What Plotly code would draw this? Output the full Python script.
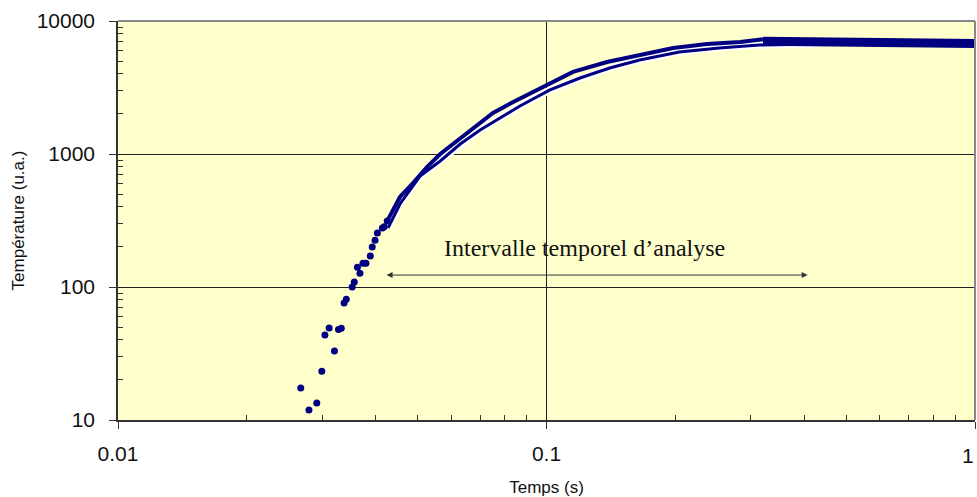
import numpy as np
import plotly.graph_objects as go

# Measured data: early isolated points
early_t = [0.0267, 0.0279, 0.0291, 0.0299, 0.0304, 0.0311, 0.0320, 0.0327, 0.0332, 0.0337,
           0.0341, 0.0352, 0.0356, 0.0362, 0.0367, 0.0373, 0.0379, 0.0388, 0.0392, 0.0398,
           0.0403, 0.0414, 0.0418, 0.0425]
early_T = [17.4, 11.9, 13.4, 23.3, 43.5, 49.2, 33.0, 48, 49, 75.8,
           81, 100, 109, 141, 127, 151, 151, 171, 200, 225,
           255, 278, 284, 314]

# Measured data: dense part (continuous)
meas_t = [0.0425, 0.0455, 0.0488, 0.0526, 0.0565, 0.0629, 0.0689, 0.0750, 0.0836, 0.0930,
          0.1058, 0.1153, 0.1384, 0.1652, 0.1975, 0.237, 0.283, 0.320]
meas_T = [314, 475, 605, 798, 1000, 1318, 1652, 2033, 2460, 2924,
          3600, 4140, 4920, 5550, 6270, 6720, 6950, 7300]

# Measured data: noisy plateau
plat_t = [0.320, 0.45, 0.60, 0.75, 0.826, 0.830, 1.0]
plat_T = [7050, 7000, 7000, 6990, 6990, 6760, 6760]

# Model curve over the analysis interval
model_t = [0.0427, 0.0455, 0.0507, 0.0565, 0.0629, 0.0700, 0.0779, 0.0867, 0.1019, 0.1197,
           0.1404, 0.1650, 0.2042, 0.2530, 0.314, 0.434]
model_T = [278, 421, 683, 886, 1189, 1514, 1866, 2296, 3030, 3727,
           4434, 5090, 5845, 6270, 6600, 6720]

x_ticks = [0.01, 0.1, 1]
x_ticktext = ["0.01", "0.1", ""]
x_last_label = "1"
y_ticks = [10, 100, 1000, 10000]
y_ticktext = ["10", "100", "1000", "10000"]

interval = [0.0420, 0.407]
interval_T = 123
label_pos = (0.1229, 196)
label_text = "Intervalle temporel d\u2019analyse"

NAVY = "#000080"
SANS = "Liberation Sans, Arial"

fig = go.Figure()
fig.add_trace(go.Scatter(x=model_t, y=model_T, mode="lines",
                         line=dict(color="white", width=7), hoverinfo="skip"))
fig.add_trace(go.Scatter(x=model_t, y=model_T, mode="lines",
                         line=dict(color=NAVY, width=3)))
fig.add_trace(go.Scatter(x=early_t, y=early_T, mode="markers",
                         marker=dict(color=NAVY, size=7)))
fig.add_trace(go.Scatter(x=meas_t, y=meas_T, mode="lines",
                         line=dict(color=NAVY, width=4)))
fig.add_trace(go.Scatter(x=plat_t, y=plat_T, mode="lines",
                         line=dict(color=NAVY, width=9)))

minor_x = [m * d for d in (0.01, 0.1) for m in range(2, 10)]
minor_y = [m * d for d in (10, 100, 1000) for m in range(2, 10)]

fig.update_xaxes(type="log", range=[-2, 0], tickvals=x_ticks, ticktext=x_ticktext,
                 showgrid=True, gridcolor="#222222", gridwidth=1,
                 ticks="outside", ticklen=7, tickcolor="#333333",
                 showline=True, linecolor="#333333", linewidth=1.5,
                 tickfont=dict(family=SANS, size=21, color="#111"),
                 ticklabelstandoff=7,
                 minor=dict(tickvals=minor_x, ticks="inside", ticklen=5,
                            tickcolor="#333333", showgrid=False),
                 title=dict(text="Temps (s)", standoff=18,
                            font=dict(family=SANS, size=17, color="#111")),
                 zeroline=False, automargin=False)
fig.update_yaxes(type="log", range=[1, 4], tickvals=y_ticks, ticktext=y_ticktext,
                 showgrid=True, gridcolor="#222222", gridwidth=1,
                 ticks="outside", ticklen=7, tickcolor="#333333",
                 showline=True, linecolor="#333333", linewidth=1.5,
                 tickfont=dict(family=SANS, size=21, color="#111"),
                 ticklabelstandoff=10,
                 minor=dict(tickvals=minor_y, ticks="inside", ticklen=5,
                            tickcolor="#333333", showgrid=False),
                 title=dict(text="Température (u.a.)", standoff=8,
                            font=dict(family=SANS, size=17, color="#111")),
                 zeroline=False, automargin=False)

# grey top and right frame
fig.add_shape(type="line", xref="paper", yref="paper", x0=0, x1=1, y0=1, y1=1,
              line=dict(color="#888888", width=2))
fig.add_shape(type="line", xref="paper", yref="paper", x0=1, x1=1, y0=0, y1=1,
              line=dict(color="#888888", width=2))

fig.add_annotation(x=1, y=0, xref="paper", yref="paper", text=x_last_label,
                   showarrow=False, xanchor="right", yanchor="top", yshift=-22,
                   xshift=1,
                   font=dict(family=SANS, size=21, color="#111"))

fig.add_annotation(x=np.log10(interval[1]), y=np.log10(interval_T),
                   ax=np.log10(interval[0]), ay=np.log10(interval_T),
                   xref="x", yref="y", axref="x", ayref="y",
                   text="", showarrow=True, arrowside="end+start", arrowhead=2,
                   arrowsize=1.2, arrowwidth=1, arrowcolor="#333333",
                   standoff=0, startstandoff=0)
fig.add_annotation(x=np.log10(label_pos[0]), y=np.log10(label_pos[1]),
                   xref="x", yref="y", text=label_text, showarrow=False,
                   font=dict(family="Liberation Serif, Times New Roman", size=24, color="#111"))

fig.update_layout(width=977, height=497, showlegend=False,
                  plot_bgcolor="#FFFFCC", paper_bgcolor="white",
                  margin=dict(l=118, r=2, t=21, b=77))

fig.write_html("out.html")
